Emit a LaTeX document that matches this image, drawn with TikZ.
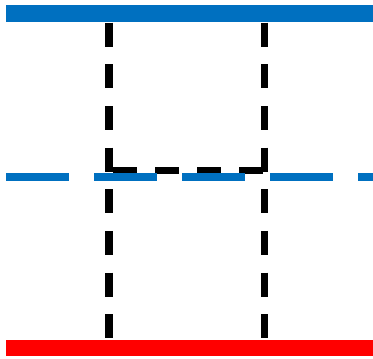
\documentclass[tikz,border=0pt]{standalone}
\definecolor{barblue}{HTML}{0070C0}
\definecolor{barred}{HTML}{FF0000}
\tikzset{
  blackdash/.style={draw=black, line width=7.5pt, dash pattern=on 24pt off 17.65pt},
  bluedash/.style={draw=barblue, line width=8pt, dash pattern=on 63pt off 25pt},
}
\begin{document}
\begin{tikzpicture}[x=1pt,y=-1pt]
\useasboundingbox (0,0) rectangle (373,359);
% bars
\fill[barblue] (6,5) rectangle (373,21.7);
\fill[barred] (6,340) rectangle (373,356);
% coordinates
\coordinate (lt) at (108.8,22.7);
\coordinate (lb) at (108.8,338.3);
\coordinate (rt) at (264.5,22.7);
\coordinate (rb) at (264.5,338.3);
\coordinate (hl) at (113,170.3);
\coordinate (hr) at (263,170.3);
\coordinate (ml) at (6,176.7);
\coordinate (mr) at (373,176.7);
% black dashed lines
\draw[blackdash] (lt) -- (lb);
\draw[blackdash] (rt) -- (rb);
\draw[blackdash, dash pattern=on 24pt off 18pt] (hl) -- (hr);
% blue dashed middle line
\draw[bluedash] (ml) -- (mr);
\end{tikzpicture}
\end{document}
